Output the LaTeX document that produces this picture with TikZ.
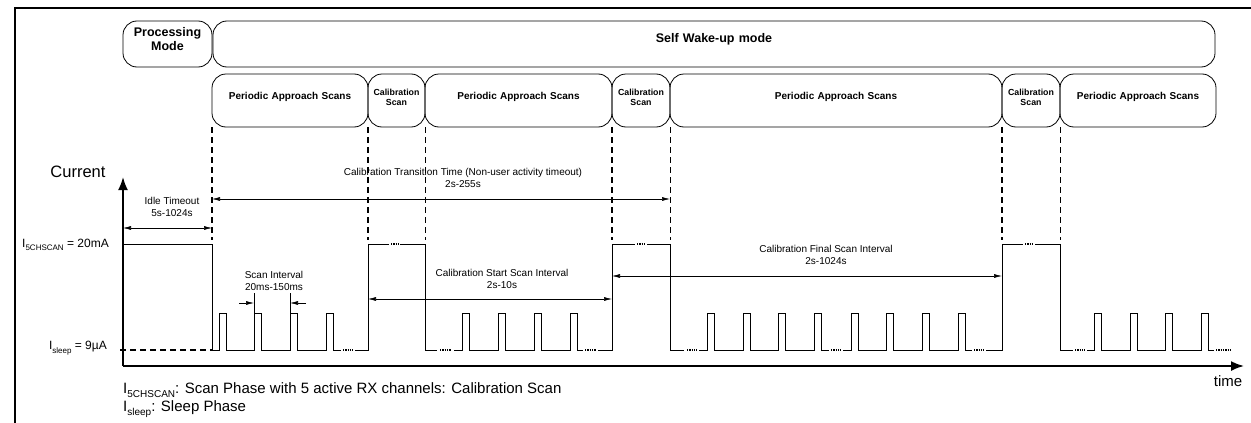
\documentclass[tikz,border=0pt]{standalone}
\usepackage{fontspec}
\setmainfont{Liberation Sans}
\usepackage{tikz}
\usetikzlibrary{arrows.meta,calc,positioning,fit}

\newcommand{\sub}[1]{\raisebox{-0.3em}{\fontsize{8}{9}\selectfont #1}}
\newcommand{\subbig}[1]{\raisebox{-0.3em}{\fontsize{10}{11}\selectfont #1}}

\begin{document}
\begin{tikzpicture}[x=1pt,y=-1pt,
	arrow/.style = {line width=0.6pt,{Latex[length=8pt,width=4pt]}-{Latex[length=8pt,width=4pt]}},
	onearrow/.style = {line width=0.6pt,-{Latex[length=8pt,width=4pt]}},
	axis/.style = {line width=1.8pt,-{Latex[length=13pt,width=10pt]}}]
	\tikzset{mode/.style={draw,rectangle,rounded corners=14pt,inner sep=0pt,line width=0.8pt,align=center,text centered,font=\bfseries\fontsize{12.5}{14}\selectfont}}
	\tikzset{phase/.style={mode,font=\bfseries\fontsize{10}{12}\selectfont}}
	\tikzset{calphase/.style={mode,font=\bfseries\fontsize{8.8}{10}\selectfont}}
	\tikzset{marker/.style={line width=1.8pt,dash pattern=on 6pt off 4pt}}
	\tikzset{signal/.style={line width=0.8pt}}
	\tikzset{dots/.style={line width=1.6pt,dash pattern=on 1.4pt off 0.9pt}}
	\tikzset{note/.style={align=center,inner sep=0pt,font=\fontsize{10}{12}\selectfont}}

	\useasboundingbox (0,0) rectangle (1251,423);
	\draw[line width=2pt] (15,423) -- (15,8) -- (1251,8);

	% Modes

	\node[fit={(123,21) (212,67)}, mode] (proc) {Processing\\Mode};
	\node[fit={(213,21) (1215,67)}, mode] (wake) {Self Wake-up mode};

	% Phases

	\node[fit={(212,74) (368,127)}, phase] (pas1) {Periodic Approach Scans};
	\node[fit={(368,74) (425,127)}, calphase] (cal1) {Calibration\\Scan};
	\node[fit={(425,74) (612,127)}, phase] (pas2) {Periodic Approach Scans};
	\node[fit={(612,74) (670,127)}, calphase] (cal2) {Calibration\\Scan};
	\node[fit={(670,74) (1002,127)}, phase] (pas3) {Periodic Approach Scans};
	\node[fit={(1002,74) (1060,127)}, calphase] (cal3) {Calibration\\Scan};
	\node[fit={(1060,74) (1216,127)}, phase] (pas4) {Periodic Approach Scans};

	\coordinate (hitop) at (0,240);
	\foreach \b in {pas1.south west,cal1.south west,cal1.south east,cal2.south west,cal2.south east,cal3.south west,cal3.south east}
		\draw[marker] (\b) -- (\b |- hitop);

	% Axes

	\coordinate (origin) at (123,366);
	\coordinate (ytip) at (123,177);
	\coordinate (xtip) at (1244,366);
	\draw[axis] (origin) -- (ytip);
	\draw[axis] (origin) -- (xtip);
	\node[font=\fontsize{16.5}{18}\selectfont] (cur) at (78,172) {Current};
	\node[font=\fontsize{15}{17}\selectfont] (time) at (1228,381) {time};
	\node[anchor=east,inner sep=0pt,font=\fontsize{12}{14}\selectfont] (ihi) at (109,245) {I\sub{5CHSCAN} = 20mA};
	\node[anchor=east,inner sep=0pt,font=\fontsize{12}{14}\selectfont] (ilo) at (107,348) {I\sub{sleep} = 9µA};

	% Current trace

	\draw[marker] (120,350) -- (212,350);
	\draw[signal] (124,244) -- (212,244) -- (212,350)
		foreach \p in {219,254,290,326} {-- (\p,350) -- (\p,313) -- ({\p+7.5},313) -- ({\p+7.5},350)} -- (341,350);
	\draw[dots] (343,350) -- (353,350);
	\draw[signal] (355,350) -- (368,350) -- (368,244) -- (389,244);
	\draw[dots] (391,244) -- (398,244);
	\draw[signal] (400,244) -- (425,244) -- (425,350) -- (437,350);
	\draw[dots] (440,350) -- (451,350);
	\draw[signal] (454,350)
		foreach \p in {462,498,534,570} {-- (\p,350) -- (\p,313) -- ({\p+7.5},313) -- ({\p+7.5},350)} -- (583,350);
	\draw[dots] (585,350) -- (596,350);
	\draw[signal] (598,350) -- (612,350) -- (612,244) -- (635,244);
	\draw[dots] (637,244) -- (645,244);
	\draw[signal] (647,244) -- (670,244) -- (670,350) -- (684,350);
	\draw[dots] (687,350) -- (697,350);
	\draw[signal] (699,350)
		foreach \p in {707,743,778,814} {-- (\p,350) -- (\p,313) -- ({\p+7.5},313) -- ({\p+7.5},350)} -- (829,350);
	\draw[dots] (831,350) -- (841,350);
	\draw[signal] (843,350)
		foreach \p in {851,886,922,958} {-- (\p,350) -- (\p,313) -- ({\p+7.5},313) -- ({\p+7.5},350)} -- (972,350);
	\draw[dots] (974,350) -- (984,350);
	\draw[signal] (986,350) -- (1002,350) -- (1002,244) -- (1023,244);
	\draw[dots] (1025,244) -- (1033,244);
	\draw[signal] (1035,244) -- (1060,244) -- (1060,350) -- (1073,350);
	\draw[dots] (1075,350) -- (1085,350);
	\draw[signal] (1087,350)
		foreach \p in {1094,1130,1165,1201} {-- (\p,350) -- (\p,313) -- ({\p+7.5},313) -- ({\p+7.5},350)} -- (1214,350);
	\draw[dots] (1216,350) -- (1230,350);

	% Intervals

	\coordinate (idleL) at (123,228);
	\coordinate (idleR) at (212,228);
	\draw[arrow] (idleL) -- (idleR);
	\node[note] (idle) at (172,207) {Idle Timeout\\5s-1024s};

	\coordinate (transL) at (212,199);
	\coordinate (transR) at (670,199);
	\draw[arrow] (transL) -- (transR);
	\node[note] (trans) at (463,178) {Calibration Transition Time (Non-user activity timeout)\\2s-255s};

	\coordinate (startL) at (368,299);
	\coordinate (startR) at (612,299);
	\draw[line width=1pt] (368,289) -- (368,308) (612,266) -- (612,308) (1002,267) -- (1002,286);
	\draw[arrow] (startL) -- (startR);
	\node[note] (start) at (502,279) {Calibration Start Scan Interval\\2s-10s};

	\coordinate (finalL) at (612,276);
	\coordinate (finalR) at (1002,276);
	\draw[arrow] (finalL) -- (finalR);
	\node[note] (final) at (826,255) {Calibration Final Scan Interval\\2s-1024s};

	\coordinate (scanA) at (239,303);
	\coordinate (scanB) at (254,303);
	\coordinate (scanC) at (306,303);
	\coordinate (scanD) at (290,303);
	\draw[signal] (254,293) -- (254,313) (290,293) -- (290,313);
	\draw[onearrow] (scanA) -- (scanB);
	\draw[onearrow] (scanC) -- (scanD);
	\node[note,font=\fontsize{10}{11.5}\selectfont] (scan) at (274,281) {Scan Interval\\20ms-150ms};

	% Legend

	\node[anchor=west,inner sep=0pt,font=\fontsize{15}{17}\selectfont] (leg1) at (123,390) {I\subbig{5CHSCAN}: Scan Phase with 5 active RX channels: Calibration Scan};
	\node[anchor=west,inner sep=0pt,font=\fontsize{15}{17}\selectfont] (leg2) at (123,409) {I\subbig{sleep}: Sleep Phase};

\end{tikzpicture}
\end{document}
